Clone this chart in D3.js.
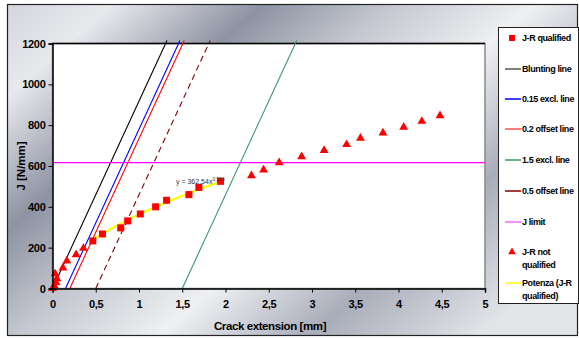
<!DOCTYPE html>
<html>
<head>
<meta charset="utf-8">
<script src="https://cdn.jsdelivr.net/npm/d3@7"></script>
<style>
  html, body { margin: 0; padding: 0; background: #fff; }
  svg { display: block; font-family: "Liberation Sans", Arial, sans-serif; }
</style>
</head>
<body>
<svg id="chart" width="579" height="338"></svg>
<script>
(function () {
  "use strict";

  // J-R qualified points (crack extension mm, J N/mm)
  var qualX = [0.466, 0.577, 0.789, 0.869, 1.015, 1.192, 1.319, 1.577, 1.692, 1.942];
  var qualJ = [233, 267, 297, 331, 365, 400, 432, 460, 495, 525];

  // J-R not qualified points
  var notQualX = [0, 0.02, 0.04, 0.05, 0.03, 0.12, 0.166, 0.273, 0.358, 2.30, 2.44, 2.62, 2.88, 3.14, 3.40, 3.56, 3.82, 4.06, 4.27, 4.48];
  var notQualJ = [0, 14, 30, 48, 72, 101, 135, 166, 197, 553, 581, 616, 646, 676, 705, 736, 762, 790, 819, 847];

  // construction lines: offset on crack extension axis, common blunting slope
  var bluntSlope = 918;
  var lineNames = ["Blunting line", "0.15 excl. line", "0.2 offset line", "0.5 offset line", "1.5 excl. line"];
  var lineOffsets = [0, 0.15, 0.2, 0.5, 1.5];
  var lineColors = ["#000000", "#0000ff", "#ff0000", "#800000", "#339966"];
  var lineDashes = [null, null, null, "6,4", null];
  var jLimit = 617;

  // power trend line y = a x^b
  var powA = 362.54;
  var powB = 0.554;

  var xTicks = [0, 0.5, 1, 1.5, 2, 2.5, 3, 3.5, 4, 4.5, 5];
  var yTicks = [0, 200, 400, 600, 800, 1000, 1200];

  var legendLabels = [["J-R qualified"], ["Blunting line"], ["0.15 excl. line"], ["0.2 offset line"], ["1.5 excl. line"], ["0.5 offset line"], ["J limit"], ["J-R not", "qualified"], ["Potenza (J-R", "qualified)"]];

  var svg = d3.select("#chart");
  var W = 579, H = 338;
  var plot = { left: 52.5, right: 485, top: 43.5, bottom: 288.5 };

  // metallic background
  var defs = svg.append("defs");
  var grad = defs.append("linearGradient").attr("id", "metal")
    .attr("gradientUnits", "userSpaceOnUse")
    .attr("x1", 60).attr("y1", -40).attr("x2", 430).attr("y2", 380);
  [["0", "#d4d6dc"], ["0.12", "#e8e9ed"], ["0.3", "#8e93a3"], ["0.45", "#c4c7cf"], ["0.62", "#eef0f2"], ["0.8", "#a9adb9"], ["1", "#e2e4e8"]]
    .forEach(function (s) { grad.append("stop").attr("offset", s[0]).attr("stop-color", s[1]); });

  svg.append("rect").attr("x", 0).attr("y", 0).attr("width", W).attr("height", H).attr("fill", "#fff");
  svg.append("rect").attr("x", 7.5).attr("y", 4.5).attr("width", 570).attr("height", 331)
    .attr("fill", "url(#metal)").attr("stroke", "#222").attr("stroke-width", 1.2);

  var x = d3.scaleLinear().domain([0, 5]).range([plot.left, plot.right]);
  var y = d3.scaleLinear().domain([0, 1200]).range([plot.bottom, plot.top]);

  svg.append("rect").attr("x", plot.left).attr("y", plot.top)
    .attr("width", plot.right - plot.left).attr("height", plot.bottom - plot.top)
    .attr("fill", "#fff").attr("stroke", "#888").attr("stroke-width", 1.5);
  svg.append("line").attr("x1", plot.left).attr("x2", plot.right).attr("y1", plot.top).attr("y2", plot.top)
    .attr("stroke", "#000").attr("stroke-width", 1.5);

  defs.append("clipPath").attr("id", "clip").append("rect")
    .attr("x", plot.left).attr("y", plot.top - 4).attr("width", plot.right - plot.left).attr("height", plot.bottom - plot.top + 4);

  var g = svg.append("g").attr("clip-path", "url(#clip)");

  // construction lines
  lineOffsets.forEach(function (off, i) {
    g.append("line")
      .attr("x1", x(off)).attr("y1", y(0))
      .attr("x2", x(off + 1215 / bluntSlope)).attr("y2", y(1215))
      .attr("stroke", lineColors[i]).attr("stroke-width", 1.1)
      .attr("stroke-dasharray", lineDashes[i]);
  });

  // J limit
  g.append("line").attr("x1", plot.left).attr("x2", plot.right)
    .attr("y1", y(jLimit)).attr("y2", y(jLimit))
    .attr("stroke", "#ff00ff").attr("stroke-width", 1.3);

  // power trend line over the qualified range
  var trendX = d3.range(qualX[0], qualX[qualX.length - 1] + 0.001, 0.05);
  var trendLine = d3.line().x(function (d) { return x(d); }).y(function (d) { return y(powA * Math.pow(d, powB)); });
  g.append("path").datum(trendX).attr("d", trendLine)
    .attr("fill", "none").attr("stroke", "#ffff00").attr("stroke-width", 2.2);

  // qualified squares
  svg.append("g").selectAll("rect").data(d3.range(qualX.length)).join("rect")
    .attr("x", function (i) { return x(qualX[i]) - 3.5; })
    .attr("y", function (i) { return y(qualJ[i]) - 3.5; })
    .attr("width", 7).attr("height", 7).attr("fill", "#ff0000");

  // not-qualified triangles
  var tri = d3.symbol().type(d3.symbolTriangle).size(34);
  svg.append("g").selectAll("path").data(d3.range(notQualX.length)).join("path")
    .attr("d", tri)
    .attr("transform", function (i) { return "translate(" + x(notQualX[i]) + "," + y(notQualJ[i]) + ")"; })
    .attr("fill", "#ff0000");

  // equation label
  var eq = svg.append("text").attr("x", 176).attr("y", 184).attr("font-size", 7).attr("fill", "#333");
  eq.append("tspan").text("y = 362,54x");
  eq.append("tspan").attr("dy", -3).attr("font-size", 5).text("0,554");

  // axes
  var xAxis = d3.axisBottom(x).tickValues(xTicks).tickSize(4)
    .tickFormat(function (d) { return String(d).replace(".", ","); });
  var gx = svg.append("g").attr("transform", "translate(0," + plot.bottom + ")").call(xAxis);
  var yAxis = d3.axisLeft(y).tickValues(yTicks).tickSize(4).tickFormat(function (d) { return String(d); });
  var gy = svg.append("g").attr("transform", "translate(" + plot.left + ",0)").call(yAxis);
  [gx, gy].forEach(function (ax) {
    ax.select(".domain").attr("stroke", "#000").attr("stroke-width", 1.5);
    ax.selectAll(".tick line").attr("stroke", "#000");
    ax.selectAll("text").attr("font-size", 11).attr("font-weight", "bold")
      .attr("font-family", "'Liberation Sans', Arial, sans-serif").attr("fill", "#000")
      .attr("letter-spacing", -0.3);
  });
  gx.selectAll("text").attr("dy", "1.1em");

  svg.append("text").attr("x", 270).attr("y", 330).attr("text-anchor", "middle")
    .attr("font-size", 11.5).attr("font-weight", "bold").attr("letter-spacing", -0.4).text("Crack extension [mm]");
  svg.append("text").attr("transform", "translate(25,166) rotate(-90)").attr("text-anchor", "middle")
    .attr("font-size", 11.5).attr("font-weight", "bold").text("J [N/mm]");

  // legend
  svg.append("rect").attr("x", 498.5).attr("y", 27.5).attr("width", 80).attr("height", 276)
    .attr("fill", "#fff").attr("stroke", "#222").attr("stroke-width", 1);
  var legendY = [38, 69, 99, 129, 160, 191, 222, 252, 283];
  var legendSym = ["square", "line0", "line1", "line2", "line4", "line3", "jlim", "tri", "pow"];
  legendLabels.forEach(function (lines, i) {
    var ly = legendY[i];
    var sym = legendSym[i];
    if (sym === "square") {
      svg.append("rect").attr("x", 509).attr("y", ly - 3).attr("width", 6).attr("height", 6).attr("fill", "#ff0000");
    } else if (sym === "tri") {
      svg.append("path").attr("d", d3.symbol().type(d3.symbolTriangle).size(26)())
        .attr("transform", "translate(512," + ly + ")").attr("fill", "#ff0000");
    } else {
      var col = sym === "jlim" ? "#ff66ff" : sym === "pow" ? "#ffff00" : lineColors[+sym.slice(4)];
      if (sym === "line0") col = "#555";
      if (sym === "line2") col = "#ff5050";
      svg.append("line").attr("x1", 505).attr("x2", 521).attr("y1", ly).attr("y2", ly)
        .attr("stroke", col).attr("stroke-width", 1.5);
    }
    lines.forEach(function (t, k) {
      svg.append("text").attr("x", 522).attr("y", ly + 3 + k * 12.5)
        .attr("font-size", 9).attr("font-weight", "bold").attr("letter-spacing", -0.4).text(t);
    });
  });
})();
</script>
</body>
</html>
